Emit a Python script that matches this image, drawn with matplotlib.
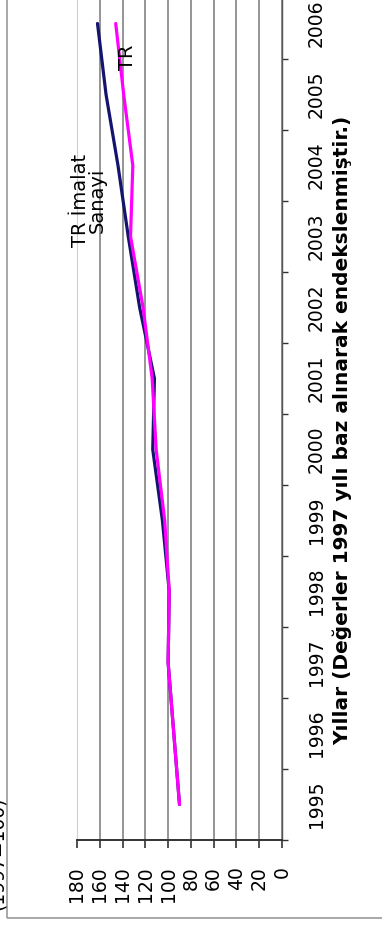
import numpy as np
import matplotlib
matplotlib.use("Agg")
import matplotlib.pyplot as plt
from matplotlib.patches import Rectangle

# ========================
# DATA (1997 = 100)
# ========================
years = ["1995", "1996", "1997", "1998", "1999", "2000",
         "2001", "2002", "2003", "2004", "2005", "2006"]
imalat = [90, 95, 100, 99, 105, 113.5, 112, 125, 135, 144, 154.5, 162]
tr = [90, 95, 100, 99, 103, 110.5, 114, 122, 133, 131, 139, 146]
value_ticks = [0, 20, 40, 60, 80, 100, 120, 140, 160, 180]

W, H = 382, 931
plt.rcParams["font.family"] = ["DejaVu Sans"]

fig = plt.figure(figsize=(W / 100, H / 100), dpi=100)

# plot area (chart is drawn turned by 90 degrees)
left, right = 77 / W, 282 / W
bottom = (H - 840) / H
height = 71 * len(years) / H
ax = fig.add_axes([left, bottom, right - left, height])

pos = np.arange(len(years))
ax.plot(imalat, pos, color="#14146e", lw=2.3, solid_capstyle="round")
ax.plot(tr, pos, color="#ff00ff", lw=2.3, solid_capstyle="round")

ax.set_xlim(180, 0)
ax.set_ylim(-0.5, len(years) - 0.5)

# value axis (bottom)
ax.set_xticks(value_ticks)
ax.set_xticklabels([str(v) for v in value_ticks])
ax.tick_params(axis="x", direction="out", length=6, width=1.2, pad=13,
               labelrotation=90, labelsize=13.5, color="#333333")
ax.grid(axis="x", color="#8c8c8c", lw=1.3)
for gl, v in zip(ax.get_xgridlines(), value_ticks):
    if v == 180:
        gl.set_color("#cfcfcf")

# category axis (right)
ax.yaxis.tick_right()
ax.set_yticks(np.arange(-0.5, len(years), 1))
ax.set_yticklabels([])
ax.set_yticks(pos, minor=True)
ax.set_yticklabels(years, minor=True, rotation=90, va="center", fontsize=13.5)
ax.tick_params(axis="y", which="major", direction="out", length=4, width=1, color="#333333")
ax.tick_params(axis="y", which="minor", length=0, pad=18)

ax.spines["top"].set_visible(False)
ax.spines["left"].set_color("#cfcfcf")
ax.spines["bottom"].set_color("#333333")
ax.spines["bottom"].set_linewidth(1.4)
ax.spines["right"].set_color("#555555")
ax.spines["right"].set_linewidth(1.0)

# series labels
ax.text(0.057, 0.751, "TR İmalat\nSanayi", transform=ax.transAxes, rotation=90,
        ha="center", va="center", multialignment="center", fontsize=14, linespacing=0.85)
ax.text(0.244, 0.919, "TR", transform=ax.transAxes, rotation=90,
        ha="center", va="center", fontsize=14)

# axis title and cut off label
fig.text(342 / W, 1 - 430 / H, "Yıllar (Değerler 1997 yılı baz alınarak endekslenmiştir.)",
         rotation=90, ha="center", va="center", fontsize=14.5, fontweight="bold")
fig.text(-3 / W, 1 - 853 / H, "(1997=100)", rotation=90, ha="center", va="center", fontsize=13.5)

# outer chart border (only left and bottom edges are in view)
fig.patches.append(Rectangle((7 / W, (H - 918) / H), 2, 2, transform=fig.transFigure,
                             fill=False, edgecolor="#999999", lw=1.2))

fig.savefig("out.png", dpi=100)
